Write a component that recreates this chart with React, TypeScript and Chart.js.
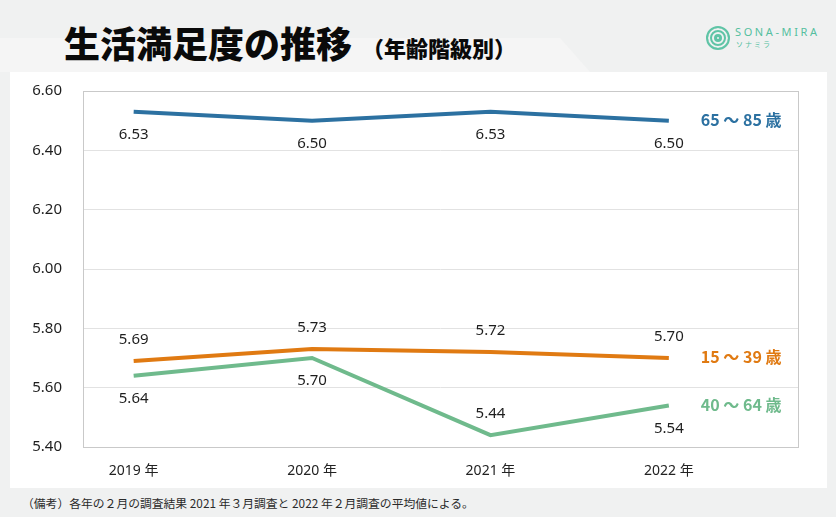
import React, { useEffect, useRef } from 'react';
import { Chart, registerables } from 'chart.js';

Chart.register(...registerables);

const years = ['2019 年', '2020 年', '2021 年', '2022 年'];
const age65to85 = [6.53, 6.5, 6.53, 6.5];
const age15to39 = [5.69, 5.73, 5.72, 5.7];
const age40to64 = [5.64, 5.7, 5.44, 5.54];
const yTickValues = [5.4, 5.6, 5.8, 6.0, 6.2, 6.4, 6.6];
const seriesNames = ['65 ～ 85 歳', '15 ～ 39 歳', '40 ～ 64 歳'];

const BLUE = '#2c71a1';
const ORANGE = '#e07a12';
const GREEN = '#6fba8c';

const toPoints = (arr: number[]) => arr.map((v, i) => ({ x: i, y: v }));

const labelPlugin = {
  id: 'valueLabels',
  afterDatasetsDraw(chart: any) {
    const ctx = chart.ctx;
    ctx.save();
    chart.data.datasets.forEach((ds: any, di: number) => {
      const meta = chart.getDatasetMeta(di);
      meta.data.forEach((pt: any, i: number) => {
        const side = ds.labelSide[i];
        const dy = side === 'below' ? 23 : -21;
        ctx.font = '15px "Noto Sans", sans-serif';
        ctx.fillStyle = '#1e1e1e';
        ctx.textAlign = 'center';
        ctx.textBaseline = 'middle';
        ctx.fillText(ds.data[i].y.toFixed(2), pt.x, pt.y + dy);
      });
      const last = meta.data[meta.data.length - 1];
      ctx.font = 'bold 16px "Noto Sans CJK JP", "Noto Sans", sans-serif';
      ctx.fillStyle = ds.borderColor;
      ctx.textAlign = 'left';
      ctx.textBaseline = 'middle';
      ctx.fillText(ds.seriesName, last.x + 32, last.y - 1);
    });
    ctx.restore();
  },
  beforeDatasetsDraw(chart: any) {
    const { ctx, chartArea } = chart;
    ctx.save();
    ctx.strokeStyle = '#c9c9c9';
    ctx.lineWidth = 1;
    ctx.strokeRect(
      Math.round(chartArea.left) + 0.5,
      Math.round(chartArea.top) + 0.5,
      Math.round(chartArea.right - chartArea.left),
      Math.round(chartArea.bottom - chartArea.top)
    );
    ctx.restore();
  },
};

function ChartPanel() {
  const ref = useRef<HTMLCanvasElement>(null);
  useEffect(() => {
    if (!ref.current) return;
    const chart = new Chart(ref.current, {
      type: 'line',
      data: {
        datasets: [
          {
            data: toPoints(age65to85),
            borderColor: BLUE,
            seriesName: seriesNames[0],
            labelSide: ['below', 'below', 'below', 'below'],
          } as any,
          {
            data: toPoints(age15to39),
            borderColor: ORANGE,
            seriesName: seriesNames[1],
            labelSide: ['above', 'above', 'above', 'above'],
          } as any,
          {
            data: toPoints(age40to64),
            borderColor: GREEN,
            seriesName: seriesNames[2],
            labelSide: ['below', 'below', 'above', 'below'],
          } as any,
        ].map((d: any) => ({
          ...d,
          borderWidth: 4,
          pointRadius: 0,
          tension: 0,
          fill: false,
        })),
      },
      options: {
        animation: false,
        responsive: false,
        layout: { padding: { left: 0, right: 29, top: 19, bottom: 0 } },
        plugins: {
          legend: { display: false },
          tooltip: { enabled: false },
        },
        scales: {
          x: {
            type: 'linear',
            min: -0.284,
            max: 3.724,
            grid: { display: false, drawTicks: false },
            border: { display: false },
            afterBuildTicks: (axis: any) => {
              axis.ticks = years.map((_, i) => ({ value: i }));
            },
            afterFit: (axis: any) => {
              axis.height = 41;
              axis.paddingLeft = 0;
              axis.paddingRight = 0;
              axis.paddingTop = 0;
              axis.paddingBottom = 0;
            },
            ticks: {
              padding: 16,
              color: '#222',
              font: { family: '"Noto Sans", "Noto Sans CJK JP", sans-serif', size: 14 },
              callback: (v: any) => years[v] ?? '',
              maxRotation: 0,
              autoSkip: false,
            },
          },
          y: {
            min: 5.4,
            max: 6.6,
            grid: { color: '#e2e2e2', drawTicks: false },
            border: { display: false },
            afterBuildTicks: (axis: any) => {
              axis.ticks = yTickValues.map((v) => ({ value: v }));
            },
            afterFit: (axis: any) => {
              axis.width = 73;
              axis.paddingTop = 0;
              axis.paddingBottom = 0;
              axis.paddingLeft = 0;
              axis.paddingRight = 0;
            },
            ticks: {
              padding: 21,
              color: '#1e1e1e',
              font: { family: '"Noto Sans", sans-serif', size: 15 },
              callback: (v: any) => Number(v).toFixed(2),
            },
          },
        },
      } as any,
      plugins: [labelPlugin],
    });
    return () => chart.destroy();
  }, []);
  return <canvas ref={ref} width={817} height={416} style={{ width: 817, height: 416, display: 'block' }} />;
}

export default function App() {
  return (
    <div
      style={{
        position: 'fixed',
        left: 0,
        top: 0,
        width: 836,
        height: 517,
        background: '#f0f1f1',
        overflow: 'hidden',
        fontFamily: '"Noto Sans CJK JP", "Noto Sans", sans-serif',
      }}
    >
      <div
        style={{
          position: 'absolute',
          left: 0,
          top: 38,
          width: 590,
          height: 34,
          background: '#f5f5f5',
          clipPath: 'polygon(0 0, 560px 0, 590px 100%, 0 100%)',
        }}
      />
      <div
        style={{
          position: 'absolute',
          left: 64,
          top: 19,
          fontSize: 36,
          fontWeight: 900,
          color: '#0a0a0a',
          lineHeight: '46px',
          whiteSpace: 'nowrap',
        }}
      >
        生活満足度の推移
      </div>
      <div
        style={{
          position: 'absolute',
          left: 362,
          top: 32,
          fontSize: 22,
          fontWeight: 900,
          color: '#0a0a0a',
          lineHeight: '30px',
          whiteSpace: 'nowrap',
        }}
      >
        （年齢階級別）
      </div>
      {/* logo */}
      <div
        style={{
          position: 'absolute',
          left: 706,
          top: 26,
          width: 20,
          height: 20,
          borderRadius: '50%',
          border: '2px solid #5fc4a6',
          boxShadow: 'inset 0 0 0 2px #f0f1f1, inset 0 0 0 4px #5fc4a6, inset 0 0 0 6px #f0f1f1, inset 0 0 0 9px #5fc4a6',
        }}
      />
      <div
        style={{
          position: 'absolute',
          left: 735,
          top: 25,
          fontSize: 11,
          letterSpacing: 2.6,
          color: '#55bf9f',
          fontFamily: '"Noto Sans", sans-serif',
          lineHeight: '14px',
          whiteSpace: 'nowrap',
        }}
      >
        SONA-MIRA
      </div>
      <div
        style={{
          position: 'absolute',
          left: 736,
          top: 40,
          fontSize: 7,
          letterSpacing: 2,
          color: '#55bf9f',
          lineHeight: '9px',
          whiteSpace: 'nowrap',
        }}
      >
        ソナミラ
      </div>
      <div
        style={{
          position: 'absolute',
          left: 10,
          top: 72,
          width: 817,
          height: 416,
          background: '#ffffff',
        }}
      >
        <ChartPanel />
      </div>
      <div
        style={{
          position: 'absolute',
          left: 22,
          top: 494,
          fontSize: 11.8,
          color: '#2a2a2a',
          lineHeight: '18px',
          whiteSpace: 'nowrap',
        }}
      >
        （備考）各年の２月の調査結果 2021 年３月調査と 2022 年２月調査の平均値による。
      </div>
    </div>
  );
}
